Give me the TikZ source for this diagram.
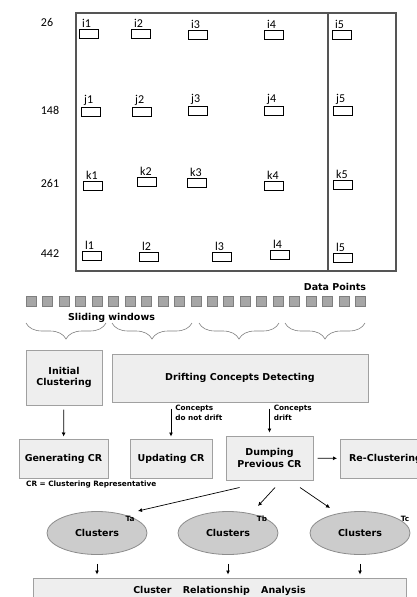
\documentclass[tikz,border=0pt]{standalone}
\usepackage{fontspec}
\setmainfont{DejaVu Sans}
\newfontfamily\calibfont{Carlito}
\usetikzlibrary{arrows.meta,positioning,shapes.geometric,calc,decorations.pathreplacing}
\definecolor{frameink}{HTML}{555555}
\definecolor{boxgray}{HTML}{EEEEEE}
\definecolor{boxedge}{HTML}{A0A0A0}
\definecolor{dotgray}{HTML}{A6A6A6}
\definecolor{dotedge}{HTML}{7F7F7F}
\definecolor{ellgray}{HTML}{CCCCCC}
\definecolor{elledge}{HTML}{8C8C8C}
\tikzset{
  pointbox/.style={draw=black,line width=0.8pt,minimum width=19pt,minimum height=9pt,
                   inner sep=0pt,anchor=north west},
  pointlabel/.style={font=\calibfont\fontsize{12}{12}\selectfont,inner sep=1pt,anchor=south west},
  rowlabel/.style={font=\calibfont\fontsize{12}{12}\selectfont,inner sep=0pt},
  datasq/.style={draw=dotedge,fill=dotgray,line width=0.5pt,minimum size=10pt,
                 inner sep=0pt,anchor=north west},
  procbox/.style={draw=boxedge,fill=boxgray,line width=1pt,align=center,inner sep=2pt,
                  font=\bfseries\fontsize{9.5}{11.5}\selectfont},
  clusterell/.style={ellipse,draw=elledge,fill=ellgray,line width=0.8pt,
                     minimum width=100pt,minimum height=43pt,inner sep=0pt,
                     font=\bfseries\fontsize{9.5}{11}\selectfont},
  smalltext/.style={font=\bfseries\fontsize{7.3}{10}\selectfont,align=left,inner sep=0pt},
  headtext/.style={font=\bfseries\fontsize{9.5}{11}\selectfont,inner sep=0pt},
  flowarr/.style={-{Latex[length=4pt,width=4pt]},line width=0.7pt},
  wbrace/.style={decorate,decoration={brace,amplitude=16pt,mirror},line width=0.6pt,color=dotedge}
}

\begin{document}
\begin{tikzpicture}[x=1pt,y=-1pt]
  \useasboundingbox (0,0) rectangle (416,597);

  \draw[frameink,line width=1.1pt] (76,13) rectangle (396,271);
  \draw[frameink,line width=1.1pt] (328,13) -- (328,271);

  \node[rowlabel] (r26) at (47,22) {26};
  \node[rowlabel] (r148) at (50,110) {148};
  \node[rowlabel] (r261) at (50,183) {261};
  \node[rowlabel] (r442) at (50,254) {442};

  \foreach \n/\bx/\by in {i1/79/29,i2/131/29,i3/188/30,i4/264/30,i5/332/30,
                          j1/81/107,j2/132/107,j3/188/106,j4/264/106,j5/333/106,
                          k1/83/181,k2/137/177,k3/187/178,k4/264/181,k5/333/180,
                          l1/82/251,l2/139/252,l3/212/252,l4/270/250,l5/333/253} {
    \node[pointbox] (b\n) at (\bx,\by) {};
    \node[pointlabel] (t\n) at ([xshift=2pt]b\n.north west) {\n};
  }

  \node[headtext] (dpts) at (335,287) {Data Points};
  \foreach \k in {1,...,21} {
    \node[datasq] (d\k) at ({26+(\k-1)*16.45},296) {};
  }
  \node[headtext] (slide) at (111.5,318) {Sliding windows};
  \foreach \bl/\br in {26/106,112/192,199/279,285/365} {
    \draw[wbrace] (\bl,323) -- (\br,323);
  }

  \node[procbox,minimum width=76pt,minimum height=55pt] (init) at (64,377.5) {Initial\\Clustering};
  \node[procbox,minimum width=256pt,minimum height=48pt] (drift) at (240,378) {Drifting Concepts Detecting};
  \node[procbox,minimum width=89pt,minimum height=39pt] (gen) at (63.5,458.5) {Generating CR};
  \node[procbox,minimum width=82pt,minimum height=39pt] (upd) at (171,458.5) {Updating CR};
  \node[procbox,minimum width=87pt,minimum height=44pt] (dump) at (269.5,458) {Dumping\\Previous CR};
  \node[procbox,minimum width=90pt,minimum height=39pt,anchor=west] (recl) at (340,458.5) {Re-Clustering};
  \node[smalltext,anchor=west] (crnote) at (26,485) {CR = Clustering Representative};

  \draw[flowarr,shorten <=4pt,shorten >=2pt] (init) -- (gen);
  \draw[flowarr,shorten <=6pt,shorten >=2pt] (upd |- drift.south) -- (upd)
    node[smalltext,pos=0.3,right=4pt] {Concepts\\do not drift};
  \draw[flowarr,shorten <=6pt,shorten >=3pt] (dump |- drift.south) -- (dump)
    node[smalltext,pos=0.3,right=4pt] {Concepts\\drift};
  \draw[flowarr,shorten <=4pt,shorten >=3pt] (dump) -- (recl);

  \node[clusterell] (ta) at (97,533) {Clusters};
  \node[clusterell] (tb) at (228,533) {Clusters};
  \node[clusterell] (tc) at (360,533) {Clusters};
  \node[smalltext] (lta) at ($(ta.center)+(33,-14)$) {Ta};
  \node[smalltext] (ltb) at ($(tb.center)+(34,-14)$) {Tb};
  \node[smalltext] (ltc) at ($(tc.center)+(45,-14)$) {Tc};

  \draw[flowarr] ($(dump.south)+(-30,7)$) -- ($(ta.center)+(41,-22)$);
  \draw[flowarr] ($(dump.south)+(5.5,7)$) -- ($(tb.center)+(30,-27)$);
  \draw[flowarr] ($(dump.south)+(30.5,7)$) -- ($(tc.center)+(-30,-25)$);

  \node[procbox,minimum width=373pt,minimum height=26pt] (cra) at (219.5,591)
    {Cluster\hspace{8pt} Relationship\hspace{8pt} Analysis};
  \foreach \c in {ta,tb,tc} {
    \draw[flowarr,shorten <=9pt,shorten >=3pt] (\c) -- (\c |- cra.north);
  }
\end{tikzpicture}
\end{document}
